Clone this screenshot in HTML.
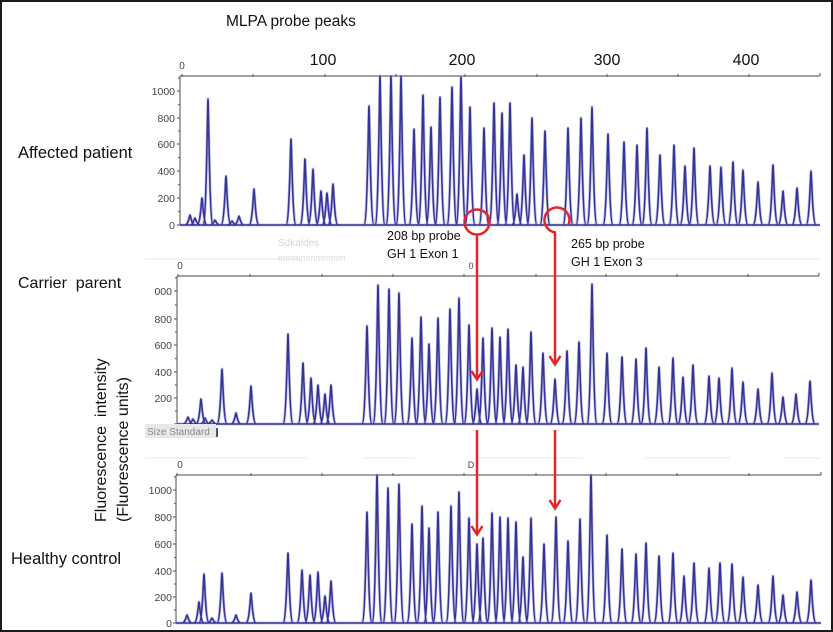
<!DOCTYPE html>
<html><head><meta charset="utf-8"><style>
html,body{margin:0;padding:0;background:#fff}
svg{display:block}
text{font-family:"Liberation Sans",sans-serif}
</style></head><body>
<svg width="833" height="632" viewBox="0 0 833 632" xmlns="http://www.w3.org/2000/svg">
<rect x="0" y="0" width="833" height="632" fill="#fff"/>
<g stroke="#e6ecf4" stroke-width="1.2">
<line x1="145" y1="458" x2="307" y2="458"/><line x1="362" y1="458" x2="415" y2="458"/>
<line x1="477" y1="458" x2="583" y2="458"/><line x1="645" y1="458" x2="730" y2="458"/><line x1="783" y1="458" x2="820" y2="458"/>
<line x1="145" y1="259" x2="300" y2="259"/><line x1="600" y1="259" x2="820" y2="259"/>
</g>
<text x="278" y="246" font-size="10" fill="#d6d6d6">Sdkaldes</text>
<text x="278" y="261" font-size="9" fill="#dcdcdc">mmmmmmmmm</text>
<text x="226" y="26" font-size="15.5" fill="#111">MLPA probe peaks</text>
<text x="18" y="158" font-size="16.5" fill="#111">Affected patient</text>
<text x="18" y="288" font-size="16" fill="#111" xml:space="preserve">Carrier  parent</text>
<text x="11" y="564" font-size="16.5" fill="#111">Healthy control</text>
<text transform="translate(106,522) rotate(-90)" font-size="16" fill="#111" xml:space="preserve">Fluorescence  intensity</text>
<text transform="translate(128,522) rotate(-90)" font-size="16" fill="#111">(Fluorescence units)</text>
<g font-size="16" fill="#111" text-anchor="middle">
<text x="323" y="65">100</text><text x="462" y="65">200</text><text x="607" y="65">300</text><text x="746" y="65">400</text>
</g>
<g font-size="10" fill="#444" text-anchor="middle">
<text x="182" y="69">0</text><text x="180" y="269">0</text><text x="180" y="468">0</text>
<text x="471" y="269" font-size="9">0</text><text x="471" y="468" font-size="9">D</text>
</g>
<g font-size="10.5" fill="#444" text-anchor="end">
<text x="175" y="95">1000</text><text x="175" y="122">800</text><text x="175" y="148">600</text><text x="175" y="175">400</text><text x="175" y="202">200</text><text x="175" y="229">0</text>
<text x="172" y="295">000</text><text x="172" y="323">800</text><text x="172" y="349">600</text><text x="172" y="376">400</text><text x="172" y="402">200</text>
<text x="172" y="494">1000</text><text x="172" y="521">800</text><text x="172" y="548">600</text><text x="172" y="575">400</text><text x="172" y="601">200</text><text x="172" y="627">0</text>
</g>
<g stroke="#6a6a6a" stroke-width="1.2" fill="none">
<path d="M180 76H820M180 76V225"/>
<path d="M177 276H819M177 276V424"/>
<path d="M176 475H821M176 475V623"/>
<path d="M182 74v3M253 74v3M325 74v3M396 74v3M465 74v3M537 74v3M607 74v3M678 74v3M749 74v3M820 73v3"/>
<path d="M178 274v3M250 274v3M322 274v3M393 274v3M464 274v3M536 274v3M606 274v3M677 274v3M748 274v3M819 273v3"/>
<path d="M177 473v3M251 473v3M322 473v3M393 473v3M464 473v3M536 473v3M606 473v3M677 473v3M749 473v3M821 472v3"/>
<path d="M177 91h3M177 118h3M177 144h3M177 171h3M177 198h3M177 225h3M178 78h2M178 104.5h2M178 131h2M178 157.5h2M178 184.5h2M178 211.5h2"/>
<path d="M174 291h3M174 319h3M174 345h3M174 372h3M174 398h3M174 424h3M175 278h2M175 305h2M175 332h2M175 358.5h2M175 385h2M175 411h2"/>
<path d="M173 490h3M173 517h3M173 544h3M173 571h3M173 597h3M173 623h3M174 477h2M174 503.5h2M174 530.5h2M174 557.5h2M174 584h2M174 610h2"/>
</g>
<g fill="none" stroke-linejoin="round">
<g stroke="#9a9ad0" stroke-width="3" opacity="0.55">
<use href="#t1"/><use href="#t2"/><use href="#t3"/>
</g>
<g stroke="#34349a" stroke-width="1.6">
<path id="t1" d="M180 225H820
M185 225c3.5 0 4.5-10 5-10c.5 0 1.5 10 5 10
M190 225c3.5 0 4.5-7 5-7c.5 0 1.5 7 5 7
M197 225c3.5 0 4.5-27 5-27c.5 0 1.5 27 5 27
M203 225c3.5 0 4.5-126 5-126c.5 0 1.5 126 5 126
M210 225c3.5 0 4.5-5 5-5c.5 0 1.5 5 5 5
M221 225c3.5 0 4.5-49 5-49c.5 0 1.5 49 5 49
M227 225c3.5 0 4.5-4 5-4c.5 0 1.5 4 5 4
M234 225c3.5 0 4.5-9 5-9c.5 0 1.5 9 5 9
M249 225c3.5 0 4.5-36 5-36c.5 0 1.5 36 5 36
M286 225c3.5 0 4.5-86 5-86c.5 0 1.5 86 5 86
M300 225c3.5 0 4.5-66 5-66c.5 0 1.5 66 5 66
M308 225c3.5 0 4.5-56 5-56c.5 0 1.5 56 5 56
M316 225c3.5 0 4.5-34 5-34c.5 0 1.5 34 5 34
M322 225c3.5 0 4.5-32 5-32c.5 0 1.5 32 5 32
M328 225c3.5 0 4.5-41 5-41c.5 0 1.5 41 5 41
M364 225c3.5 0 4.5-119 5-119c.5 0 1.5 119 5 119
M375 225c3.5 0 4.5-149 5-149c.5 0 1.5 149 5 149
M386 225c3.5 0 4.5-149 5-149c.5 0 1.5 149 5 149
M396 225c3.5 0 4.5-149 5-149c.5 0 1.5 149 5 149
M409 225c3.5 0 4.5-96 5-96c.5 0 1.5 96 5 96
M418 225c3.5 0 4.5-130 5-130c.5 0 1.5 130 5 130
M426 225c3.5 0 4.5-98 5-98c.5 0 1.5 98 5 98
M435 225c3.5 0 4.5-128 5-128c.5 0 1.5 128 5 128
M447 225c3.5 0 4.5-138 5-138c.5 0 1.5 138 5 138
M456 225c3.5 0 4.5-148 5-148c.5 0 1.5 148 5 148
M465 225c3.5 0 4.5-118 5-118c.5 0 1.5 118 5 118
M479 225c3.5 0 4.5-97 5-97c.5 0 1.5 97 5 97
M489 225c3.5 0 4.5-122 5-122c.5 0 1.5 122 5 122
M497 225c3.5 0 4.5-112 5-112c.5 0 1.5 112 5 112
M505 225c3.5 0 4.5-122 5-122c.5 0 1.5 122 5 122
M512 225c3.5 0 4.5-31 5-31c.5 0 1.5 31 5 31
M519 225c3.5 0 4.5-70 5-70c.5 0 1.5 70 5 70
M527 225c3.5 0 4.5-107 5-107c.5 0 1.5 107 5 107
M540 225c3.5 0 4.5-94 5-94c.5 0 1.5 94 5 94
M563 225c3.5 0 4.5-97 5-97c.5 0 1.5 97 5 97
M576 225c3.5 0 4.5-107 5-107c.5 0 1.5 107 5 107
M587 225c3.5 0 4.5-118 5-118c.5 0 1.5 118 5 118
M603 225c3.5 0 4.5-91 5-91c.5 0 1.5 91 5 91
M619 225c3.5 0 4.5-83 5-83c.5 0 1.5 83 5 83
M632 225c3.5 0 4.5-80 5-80c.5 0 1.5 80 5 80
M642 225c3.5 0 4.5-97 5-97c.5 0 1.5 97 5 97
M655 225c3.5 0 4.5-70 5-70c.5 0 1.5 70 5 70
M669 225c3.5 0 4.5-80 5-80c.5 0 1.5 80 5 80
M680 225c3.5 0 4.5-59 5-59c.5 0 1.5 59 5 59
M689 225c3.5 0 4.5-77 5-77c.5 0 1.5 77 5 77
M705 225c3.5 0 4.5-59 5-59c.5 0 1.5 59 5 59
M716 225c3.5 0 4.5-58 5-58c.5 0 1.5 58 5 58
M728 225c3.5 0 4.5-63 5-63c.5 0 1.5 63 5 63
M738 225c3.5 0 4.5-55 5-55c.5 0 1.5 55 5 55
M753 225c3.5 0 4.5-43 5-43c.5 0 1.5 43 5 43
M768 225c3.5 0 4.5-60 5-60c.5 0 1.5 60 5 60
M778 225c3.5 0 4.5-34 5-34c.5 0 1.5 34 5 34
M792 225c3.5 0 4.5-37 5-37c.5 0 1.5 37 5 37
M806 225c3.5 0 4.5-54 5-54c.5 0 1.5 54 5 54"/>
<path id="t2" d="M177 424H819
M183 424c3.5 0 4.5-7 5-7c.5 0 1.5 7 5 7
M188 424c3.5 0 4.5-5 5-5c.5 0 1.5 5 5 5
M196 424c3.5 0 4.5-25 5-25c.5 0 1.5 25 5 25
M200 424c3.5 0 4.5-6 5-6c.5 0 1.5 6 5 6
M207 424c3.5 0 4.5-4 5-4c.5 0 1.5 4 5 4
M217 424c3.5 0 4.5-55 5-55c.5 0 1.5 55 5 55
M231 424c3.5 0 4.5-11 5-11c.5 0 1.5 11 5 11
M246 424c3.5 0 4.5-38 5-38c.5 0 1.5 38 5 38
M283 424c3.5 0 4.5-90 5-90c.5 0 1.5 90 5 90
M298 424c3.5 0 4.5-61 5-61c.5 0 1.5 61 5 61
M306 424c3.5 0 4.5-46 5-46c.5 0 1.5 46 5 46
M313 424c3.5 0 4.5-39 5-39c.5 0 1.5 39 5 39
M320 424c3.5 0 4.5-30 5-30c.5 0 1.5 30 5 30
M326 424c3.5 0 4.5-39 5-39c.5 0 1.5 39 5 39
M362 424c3.5 0 4.5-98 5-98c.5 0 1.5 98 5 98
M373 424c3.5 0 4.5-139 5-139c.5 0 1.5 139 5 139
M384 424c3.5 0 4.5-135 5-135c.5 0 1.5 135 5 135
M394 424c3.5 0 4.5-131 5-131c.5 0 1.5 131 5 131
M407 424c3.5 0 4.5-86 5-86c.5 0 1.5 86 5 86
M416 424c3.5 0 4.5-107 5-107c.5 0 1.5 107 5 107
M424 424c3.5 0 4.5-80 5-80c.5 0 1.5 80 5 80
M433 424c3.5 0 4.5-106 5-106c.5 0 1.5 106 5 106
M445 424c3.5 0 4.5-115 5-115c.5 0 1.5 115 5 115
M454 424c3.5 0 4.5-126 5-126c.5 0 1.5 126 5 126
M464 424c3.5 0 4.5-99 5-99c.5 0 1.5 99 5 99
M472 424c3.5 0 4.5-35 5-35c.5 0 1.5 35 5 35
M478 424c3.5 0 4.5-86 5-86c.5 0 1.5 86 5 86
M487 424c3.5 0 4.5-96 5-96c.5 0 1.5 96 5 96
M495 424c3.5 0 4.5-87 5-87c.5 0 1.5 87 5 87
M503 424c3.5 0 4.5-95 5-95c.5 0 1.5 95 5 95
M511 424c3.5 0 4.5-59 5-59c.5 0 1.5 59 5 59
M518 424c3.5 0 4.5-57 5-57c.5 0 1.5 57 5 57
M526 424c3.5 0 4.5-92 5-92c.5 0 1.5 92 5 92
M538 424c3.5 0 4.5-71 5-71c.5 0 1.5 71 5 71
M550 424c3.5 0 4.5-45 5-45c.5 0 1.5 45 5 45
M562 424c3.5 0 4.5-73 5-73c.5 0 1.5 73 5 73
M574 424c3.5 0 4.5-82 5-82c.5 0 1.5 82 5 82
M587 424c3.5 0 4.5-140 5-140c.5 0 1.5 140 5 140
M602 424c3.5 0 4.5-71 5-71c.5 0 1.5 71 5 71
M617 424c3.5 0 4.5-67 5-67c.5 0 1.5 67 5 67
M631 424c3.5 0 4.5-65 5-65c.5 0 1.5 65 5 65
M641 424c3.5 0 4.5-76 5-76c.5 0 1.5 76 5 76
M654 424c3.5 0 4.5-57 5-57c.5 0 1.5 57 5 57
M668 424c3.5 0 4.5-66 5-66c.5 0 1.5 66 5 66
M678 424c3.5 0 4.5-47 5-47c.5 0 1.5 47 5 47
M688 424c3.5 0 4.5-59 5-59c.5 0 1.5 59 5 59
M704 424c3.5 0 4.5-48 5-48c.5 0 1.5 48 5 48
M714 424c3.5 0 4.5-46 5-46c.5 0 1.5 46 5 46
M727 424c3.5 0 4.5-56 5-56c.5 0 1.5 56 5 56
M738 424c3.5 0 4.5-42 5-42c.5 0 1.5 42 5 42
M753 424c3.5 0 4.5-35 5-35c.5 0 1.5 35 5 35
M767 424c3.5 0 4.5-51 5-51c.5 0 1.5 51 5 51
M778 424c3.5 0 4.5-27 5-27c.5 0 1.5 27 5 27
M791 424c3.5 0 4.5-30 5-30c.5 0 1.5 30 5 30
M805 424c3.5 0 4.5-43 5-43c.5 0 1.5 43 5 43"/>
<path id="t3" d="M176 623H821
M182 623c3.5 0 4.5-8 5-8c.5 0 1.5 8 5 8
M194 623c3.5 0 4.5-21 5-21c.5 0 1.5 21 5 21
M199 623c3.5 0 4.5-49 5-49c.5 0 1.5 49 5 49
M207 623c3.5 0 4.5-5 5-5c.5 0 1.5 5 5 5
M217 623c3.5 0 4.5-50 5-50c.5 0 1.5 50 5 50
M231 623c3.5 0 4.5-8 5-8c.5 0 1.5 8 5 8
M246 623c3.5 0 4.5-30 5-30c.5 0 1.5 30 5 30
M283 623c3.5 0 4.5-70 5-70c.5 0 1.5 70 5 70
M297 623c3.5 0 4.5-53 5-53c.5 0 1.5 53 5 53
M305 623c3.5 0 4.5-48 5-48c.5 0 1.5 48 5 48
M313 623c3.5 0 4.5-51 5-51c.5 0 1.5 51 5 51
M320 623c3.5 0 4.5-27 5-27c.5 0 1.5 27 5 27
M326 623c3.5 0 4.5-42 5-42c.5 0 1.5 42 5 42
M362 623c3.5 0 4.5-111 5-111c.5 0 1.5 111 5 111
M372 623c3.5 0 4.5-148 5-148c.5 0 1.5 148 5 148
M383 623c3.5 0 4.5-135 5-135c.5 0 1.5 135 5 135
M394 623c3.5 0 4.5-139 5-139c.5 0 1.5 139 5 139
M407 623c3.5 0 4.5-99 5-99c.5 0 1.5 99 5 99
M417 623c3.5 0 4.5-117 5-117c.5 0 1.5 117 5 117
M424 623c3.5 0 4.5-95 5-95c.5 0 1.5 95 5 95
M433 623c3.5 0 4.5-111 5-111c.5 0 1.5 111 5 111
M446 623c3.5 0 4.5-117 5-117c.5 0 1.5 117 5 117
M454 623c3.5 0 4.5-131 5-131c.5 0 1.5 131 5 131
M464 623c3.5 0 4.5-105 5-105c.5 0 1.5 105 5 105
M472 623c3.5 0 4.5-79 5-79c.5 0 1.5 79 5 79
M478 623c3.5 0 4.5-85 5-85c.5 0 1.5 85 5 85
M487 623c3.5 0 4.5-110 5-110c.5 0 1.5 110 5 110
M495 623c3.5 0 4.5-106 5-106c.5 0 1.5 106 5 106
M503 623c3.5 0 4.5-105 5-105c.5 0 1.5 105 5 105
M511 623c3.5 0 4.5-101 5-101c.5 0 1.5 101 5 101
M518 623c3.5 0 4.5-66 5-66c.5 0 1.5 66 5 66
M526 623c3.5 0 4.5-105 5-105c.5 0 1.5 105 5 105
M539 623c3.5 0 4.5-79 5-79c.5 0 1.5 79 5 79
M551 623c3.5 0 4.5-106 5-106c.5 0 1.5 106 5 106
M563 623c3.5 0 4.5-82 5-82c.5 0 1.5 82 5 82
M575 623c3.5 0 4.5-104 5-104c.5 0 1.5 104 5 104
M586 623c3.5 0 4.5-148 5-148c.5 0 1.5 148 5 148
M602 623c3.5 0 4.5-88 5-88c.5 0 1.5 88 5 88
M617 623c3.5 0 4.5-74 5-74c.5 0 1.5 74 5 74
M631 623c3.5 0 4.5-69 5-69c.5 0 1.5 69 5 69
M641 623c3.5 0 4.5-80 5-80c.5 0 1.5 80 5 80
M654 623c3.5 0 4.5-67 5-67c.5 0 1.5 67 5 67
M668 623c3.5 0 4.5-70 5-70c.5 0 1.5 70 5 70
M679 623c3.5 0 4.5-47 5-47c.5 0 1.5 47 5 47
M689 623c3.5 0 4.5-60 5-60c.5 0 1.5 60 5 60
M704 623c3.5 0 4.5-55 5-55c.5 0 1.5 55 5 55
M715 623c3.5 0 4.5-60 5-60c.5 0 1.5 60 5 60
M727 623c3.5 0 4.5-59 5-59c.5 0 1.5 59 5 59
M738 623c3.5 0 4.5-46 5-46c.5 0 1.5 46 5 46
M753 623c3.5 0 4.5-38 5-38c.5 0 1.5 38 5 38
M768 623c3.5 0 4.5-47 5-47c.5 0 1.5 47 5 47
M778 623c3.5 0 4.5-28 5-28c.5 0 1.5 28 5 28
M792 623c3.5 0 4.5-31 5-31c.5 0 1.5 31 5 31
M806 623c3.5 0 4.5-43 5-43c.5 0 1.5 43 5 43"/>
</g>
</g>
<rect x="145" y="424" width="71" height="14" fill="#e8e8ec"/>
<text x="147" y="435" font-size="10" fill="#8a8a8a">Size Standard</text>
<rect x="216" y="428" width="2" height="9" fill="#555"/>
<g font-size="12.5" fill="#111">
<text x="387" y="240">208 bp probe</text>
<text x="387" y="258">GH 1 Exon 1</text>
<text x="571" y="248">265 bp probe</text>
<text x="571" y="266">GH 1 Exon 3</text>
</g>
<g fill="none" stroke="#e3262a" stroke-width="2.5">
<circle cx="477" cy="222" r="12.5"/>
<path d="M555.9 232.5A12.5 12.5 0 1 1 568.7 224.3"/>
<path d="M477 234.5V379M477 430V534M555 232V364M555 430V508"/>
<path d="M471.5 371L477 379.5L482.5 371M471.5 526L477 534.5L482.5 526M549.5 356L555 364.5L560.5 356M549.5 500L555 508.5L560.5 500"/>
</g>
<rect x="1" y="1" width="831" height="630" fill="none" stroke="#1a1a1a" stroke-width="2"/>
</svg>
</body></html>
